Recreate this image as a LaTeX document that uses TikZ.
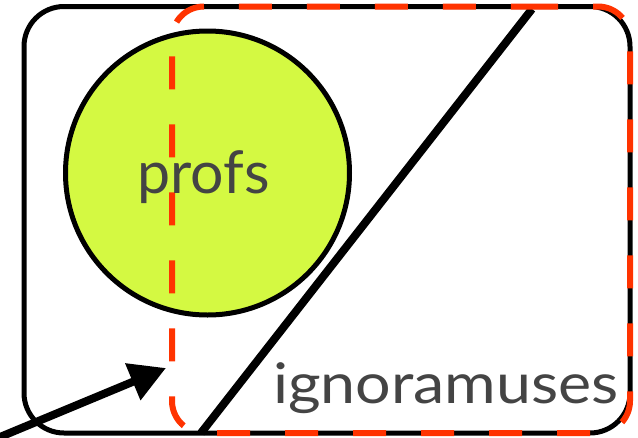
\documentclass[tikz,border=0pt]{standalone}
\usepackage{fontspec}
\setmainfont{Lato}
\newfontfamily\widefont[FakeStretch=1.12]{Lato}
\usetikzlibrary{arrows.meta}
\definecolor{lime}{HTML}{D4F942}
\definecolor{redorange}{HTML}{FF3300}
\definecolor{txtgray}{HTML}{444444}
\tikzset{
  outerbox/.style={draw=black, line width=5pt, rounded corners=40pt},
  setcircle/.style={draw=black, fill=lime, line width=5pt},
  divider/.style={draw=black, line width=8pt},
  reddash/.style={draw=redorange, line width=6pt, dash pattern=on 33pt off 35pt, rounded corners=32pt},
  lbl/.style={text=txtgray, inner sep=0pt, anchor=base},
  pointer/.style={draw=black, line width=8pt, -{Triangle[length=36pt,width=38pt]}}
}
\begin{document}
\begin{tikzpicture}[x=1pt,y=-1pt]
\useasboundingbox (0,0) rectangle (638,437);
\clip (0,0) rectangle (638,437);
\draw[outerbox] (24,6.5) rectangle (630,433);
\node[setcircle, circle, minimum size=284pt, inner sep=0pt] (profs) at (207.5,173) {};
\coordinate (dtop) at (532,9);
\coordinate (dbot) at (201,433);
\draw[divider] (dbot) -- (dtop);
\draw[reddash] (493,6.5) -- (630,6.5) -- (630,433) -- (172,433) -- (172,6.5) -- cycle;
\node[lbl, font=\fontsize{59}{59}\selectfont] (profslbl) at (203.5,193) {profs};
\node[lbl, font=\widefont\fontsize{56}{56}\selectfont] (ignlbl) at (446,403) {ignoramuses};
\coordinate (astart) at (-12,442);
\coordinate (atip) at (166,368);
\draw[pointer] (astart) -- (atip);
\end{tikzpicture}
\end{document}
